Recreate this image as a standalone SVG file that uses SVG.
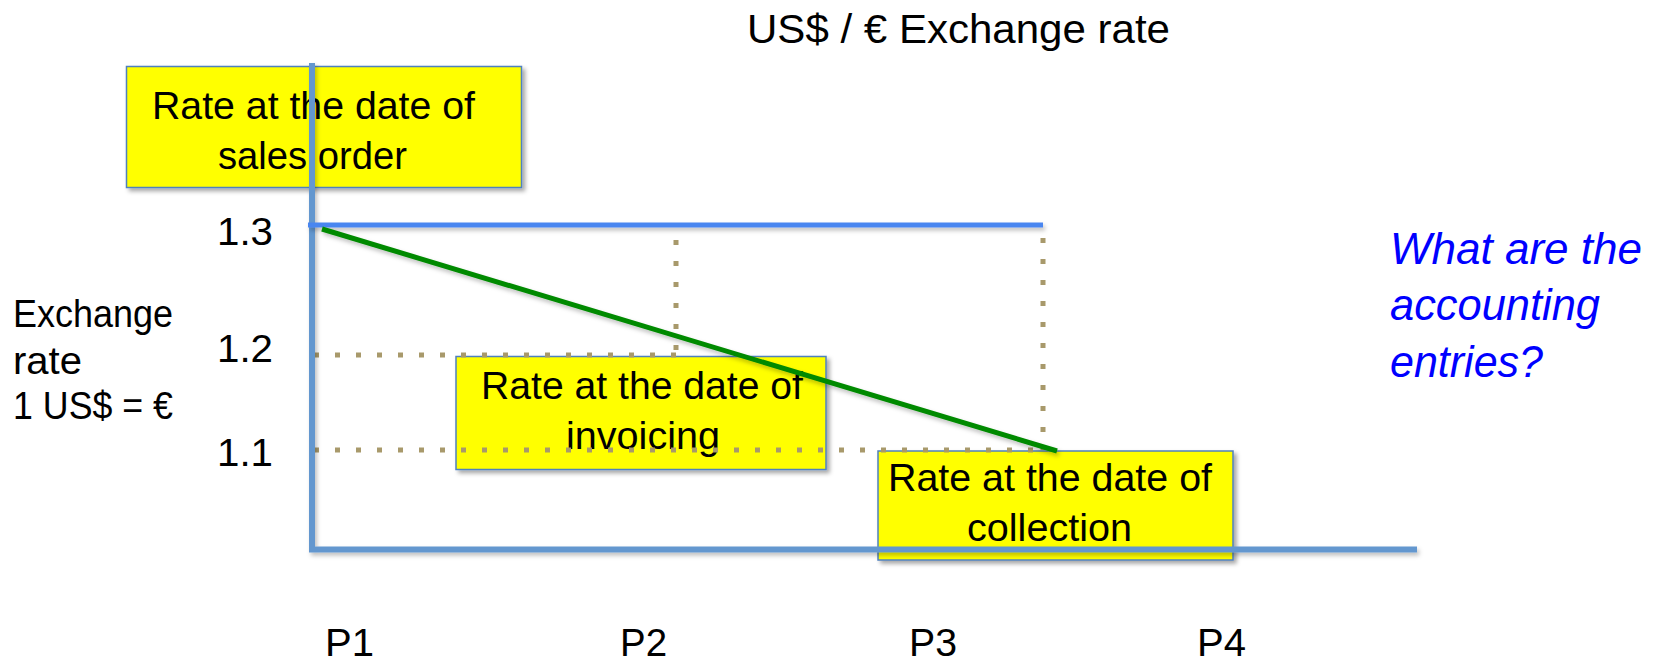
<svg xmlns="http://www.w3.org/2000/svg" width="1653" height="661" viewBox="0 0 1653 661">
<style>
.t{font-family:"Liberation Sans",Arial,sans-serif;fill:#000;}
.box{fill:#FFFF00;stroke:#4F81BD;stroke-width:1.5;}
.axis{stroke:#6497CF;stroke-width:6;fill:none;}
.top{stroke:#4A86F0;stroke-width:5;fill:none;}
.dot{stroke:#A8996B;stroke-width:5;stroke-dasharray:5 16;fill:none;}
.green{stroke:#008A00;stroke-width:5;fill:none;}
.q{font-family:"Liberation Sans",Arial,sans-serif;font-style:italic;fill:#0000FF;font-size:45px;}
</style>
<defs>
<filter id="sh" x="-10%" y="-10%" width="130%" height="140%">
<feDropShadow dx="3" dy="3" stdDeviation="2" flood-color="#000" flood-opacity="0.35"/>
</filter>
<filter id="lsh" filterUnits="userSpaceOnUse" x="0" y="0" width="1653" height="661">
<feDropShadow dx="2" dy="3" stdDeviation="2" flood-color="#000" flood-opacity="0.25"/>
</filter>
</defs>
<rect width="1653" height="661" fill="#fff"/>

<g id="title">
<text class="t" x="747" y="43" font-size="41" textLength="423" lengthAdjust="spacingAndGlyphs">US$ / € Exchange rate</text>
</g>

<g id="box-sales-order">
<rect class="box" x="126.5" y="66.5" width="395" height="121" filter="url(#sh)"/>
<text class="t" font-size="39" x="152" y="119" textLength="323" lengthAdjust="spacingAndGlyphs">Rate at the date of</text>
<text class="t" font-size="39" x="218" y="169" textLength="189" lengthAdjust="spacingAndGlyphs">sales order</text>
</g>

<g id="box-invoicing">
<rect class="box" x="456" y="356.5" width="370" height="113" filter="url(#sh)"/>
<text class="t" font-size="39" x="481" y="399" textLength="322" lengthAdjust="spacingAndGlyphs">Rate at the date of</text>
<text class="t" font-size="39" x="566" y="449" textLength="154" lengthAdjust="spacingAndGlyphs">invoicing</text>
</g>

<g id="box-collection">
<rect class="box" x="878" y="451" width="355" height="109" filter="url(#sh)"/>
<text class="t" font-size="39" x="888" y="491" textLength="324" lengthAdjust="spacingAndGlyphs">Rate at the date of</text>
<text class="t" font-size="39" x="967" y="541" textLength="165" lengthAdjust="spacingAndGlyphs">collection</text>
</g>

<g id="connectors">
<path class="dot" d="M314 355 H676"/>
<path class="dot" d="M676 240 V355"/>
<path class="dot" d="M314 450 H1043"/>
<path class="dot" d="M1043 238 V450"/>
<path class="axis" d="M312 63 V549.5 H1417" filter="url(#lsh)"/>
<path class="top" d="M308 225 H1043" filter="url(#lsh)"/>
<path class="green" d="M322 229 L1057 451" filter="url(#lsh)"/>
</g>

<g id="y-axis-label">
<text class="t" font-size="38" x="13" y="327" textLength="160" lengthAdjust="spacingAndGlyphs">Exchange</text>
<text class="t" font-size="38" x="13" y="374" textLength="69" lengthAdjust="spacingAndGlyphs">rate</text>
<text class="t" font-size="38" x="13" y="419" textLength="160" lengthAdjust="spacingAndGlyphs">1 US$ = €</text>
</g>

<g id="y-ticks">
<text class="t" font-size="39" x="217" y="245" textLength="56" lengthAdjust="spacingAndGlyphs">1.3</text>
<text class="t" font-size="39" x="217" y="362" textLength="56" lengthAdjust="spacingAndGlyphs">1.2</text>
<text class="t" font-size="39" x="217" y="466" textLength="56" lengthAdjust="spacingAndGlyphs">1.1</text>
</g>

<g id="x-ticks">
<text class="t" font-size="39" x="325" y="656" textLength="49" lengthAdjust="spacingAndGlyphs">P1</text>
<text class="t" font-size="39" x="620" y="656" textLength="47" lengthAdjust="spacingAndGlyphs">P2</text>
<text class="t" font-size="39" x="909" y="656" textLength="48" lengthAdjust="spacingAndGlyphs">P3</text>
<text class="t" font-size="39" x="1197" y="656" textLength="49" lengthAdjust="spacingAndGlyphs">P4</text>
</g>

<g id="question">
<text class="q" x="1390" y="264" textLength="252" lengthAdjust="spacingAndGlyphs">What are the</text>
<text class="q" x="1390" y="320" textLength="210" lengthAdjust="spacingAndGlyphs">accounting</text>
<text class="q" x="1390" y="377" textLength="153" lengthAdjust="spacingAndGlyphs">entries?</text>
</g>
</svg>
